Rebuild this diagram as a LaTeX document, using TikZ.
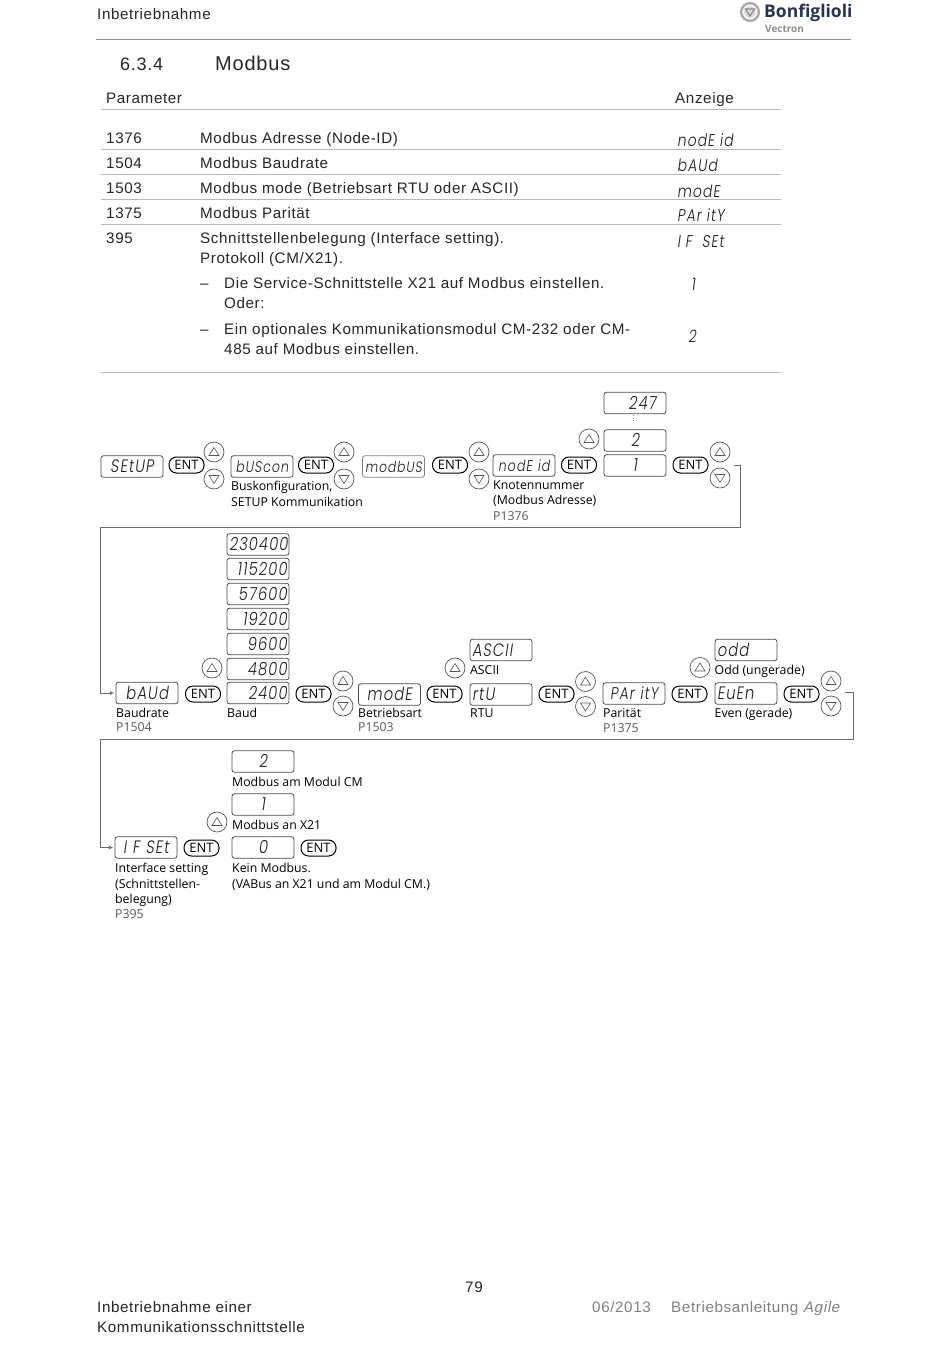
\documentclass[tikz,border=0pt]{standalone}
\usepackage{fontspec}
\setmainfont[LetterSpace=4]{Liberation Sans}
\newfontfamily\dia{Open Sans}
\newfontfamily\seg[FakeSlant=0.14,FakeStretch=0.82,LetterSpace=6]{Poppins Light}
\usetikzlibrary{arrows.meta}
\definecolor{rulec}{gray}{0.72}
\definecolor{frame}{gray}{0.42}
\definecolor{inkc}{gray}{0.12}
\definecolor{navy}{RGB}{38,52,82}
\tikzset{
 x=1pt,y=-1pt,
 disp/.style={draw=inkc!80!white,line width=.8pt,rounded corners=2.5pt,minimum width=62pt,minimum height=21.5pt,inner sep=0pt,text width=58pt,align=center,text height=12pt,text depth=0pt,font=\seg\fontsize{18}{19}\selectfont,text=inkc},
 dl/.style={disp,align=left},
 dr/.style={disp,align=right},
 dsm/.style={font=\seg\fontsize{15.5}{19}\selectfont},
 ent/.style={draw=black,line width=1pt,rounded corners=7.5pt,minimum width=35pt,minimum height=16pt,inner sep=0pt,font=\dia\fontsize{13}{13}\selectfont},
 btn/.style={circle,draw=inkc!75!white,line width=.7pt,minimum size=20pt,inner sep=0pt},
 lab/.style={anchor=base west,yshift=-4.5pt,inner sep=0pt,font=\dia\fontsize{12.3}{14}\selectfont,text=black},
 parm/.style={lab,text=black!65},
 body/.style={anchor=base west,yshift=-5pt,inner sep=0pt,font=\fontsize{15.2}{18}\selectfont,text=black!85},
 hrule/.style={draw=rulec,line width=.8pt},
 flow/.style={draw=frame,line width=.9pt},
 ann/.style={anchor=base west,yshift=-6pt,inner sep=0pt,font=\seg\fontsize{17}{16}\selectfont,text=inkc},
}
\newcommand{\upb}[3]{\node[btn] (#1) at (#2,#3) {};\draw[inkc!75!white,line width=.6pt] (#1.center) ++(-5,3.5) -- ++(10,0) -- ++(-5,-8) -- cycle;}
\newcommand{\dnb}[3]{\node[btn] (#1) at (#2,#3) {};\draw[inkc!75!white,line width=.6pt] (#1.center) ++(-5,-3.5) -- ++(10,0) -- ++(-5,8) -- cycle;}
\begin{document}
\begin{tikzpicture}
\useasboundingbox (0,0) rectangle (950,1359);
% header
\node[body] (hd) at (97,15) {Inbetriebnahme};
\draw[draw=black!45,line width=1pt] (96,40) -- (851,40);
\node[anchor=base west,inner sep=0pt,font=\dia\bfseries\fontsize{17.5}{18}\selectfont,text=navy] (lg) at (764,18) {Bonfiglioli};
\node[anchor=base west,inner sep=0pt,font=\dia\bfseries\fontsize{10}{10}\selectfont,text=black!45] (lg2) at (765,33) {Vectron};
\node[circle,draw=black!35,line width=2pt,minimum size=18pt,inner sep=0pt,fill=black!15] (lgc) at (750,12) {};
\draw[white,line width=1pt] (lgc.center) circle (6.5pt);
\draw[black!45,line width=1.2pt] (745.5,9) -- (754.5,9) -- (750,16) -- cycle;
\node[anchor=base west,inner sep=0pt,font=\fontsize{18}{18}\selectfont,text=black!85] (sec) at (120,71) {6.3.4};
\node[anchor=base west,inner sep=0pt,font=\fontsize{20}{20}\selectfont,text=black!85] (sect) at (215,71) {Modbus};
% table
\node[body] (tp) at (106,99) {Parameter};
\node[body] (ta) at (675,99) {Anzeige};
\draw[hrule] (101,109.5) -- (781,109.5);
\foreach \yy in {149.5,174.5,199.5,224.5} \draw[hrule] (101,\yy) -- (781,\yy);
\draw[hrule] (101,372.5) -- (781,372.5);
\node[body] at (106,138.5) {1376};\node[body] at (200,138.5) {Modbus Adresse (Node-ID)};\node[ann] at (677,141) {nodE id};
\node[body] at (106,163.5) {1504};\node[body] at (200,163.5) {Modbus Baudrate};\node[ann] at (677,166) {bAUd};
\node[body] at (106,188.5) {1503};\node[body] at (200,188.5) {Modbus mode (Betriebsart RTU oder ASCII)};\node[ann] at (677,191) {modE};
\node[body] at (106,213.5) {1375};\node[body] at (200,213.5) {Modbus Parität};\node[ann] at (677,216) {PAr itY};
\node[body] at (106,238.5) {395};\node[body] at (200,238.5) {Schnittstellenbelegung (Interface setting).};\node[ann] at (677,241) {I F\hspace{5pt} SEt};
\node[body] at (200,258.5) {Protokoll (CM/X21).};
\node[body] at (200,283.5) {–};\node[body] at (224,283.5) {Die Service-Schnittstelle X21 auf Modbus einstellen.};\node[ann] at (691,284) {1};
\node[body] at (224,303.5) {Oder:};
\node[body] at (200,329) {–};\node[body] at (224,329) {Ein optionales Kommunikationsmodul CM-232 oder CM-};\node[ann] at (688,336) {2};
\node[body] at (224,349) {485 auf Modbus einstellen.};
% row 1
\node[disp] (setup) at (132,466.5) {SEtUP};
\node[ent] (e1) at (186.5,465) {ENT};
\upb{u1}{214}{452}\dnb{d1}{214}{479}
\node[disp,dsm] (buscon) at (262,466.5) {bUScon};
\node[ent] (e2) at (316,465) {ENT};
\upb{u2}{344}{452}\dnb{d2}{344}{479}
\node[disp,font=\seg\fontsize{15}{19}\selectfont,draw=black!50] (modbus) at (393.5,466.5) {modbUS};
\node[ent] (e3) at (450,465) {ENT};
\upb{u3}{479}{452}\dnb{d3}{479}{479}
\node[disp,dsm] (nodeid) at (524,465.5) {nodE id};
\node[ent] (e4) at (579,465) {ENT};
\node[disp] (v1) at (635,465.5) {1};
\node[disp] (v2) at (635,440.5) {2};
\node[dr] (v247) at (635,403) {247\hspace*{8pt}};
\coordinate (dot1) at (633,415);
\coordinate (dot2) at (633,422);
\draw[black!45,dotted,line width=.7pt] (dot1) -- (dot2);
\upb{u4}{589}{439}
\node[ent] (e5) at (690.5,465) {ENT};
\upb{u5}{720}{452}\dnb{d5}{720}{478}
\node[lab] at (231,486) {Buskonfiguration,};
\node[lab] at (231,502) {SETUP Kommunikation};
\node[lab] at (493,485) {Knotennummer};
\node[lab] at (493,500) {(Modbus Adresse)};
\node[parm] at (493,516) {P1376};
% row 2
\node[disp] (baud) at (147,693) {bAUd};
\node[ent] (e6) at (203,694) {ENT};
\upb{u6}{212}{668}
\foreach \nn/\yy/\tt in {b2400/693/2400,b4800/669/4800,b9600/644/9600,b19200/619/19200,b57600/594/57600,b115200/569/115200,b230400/544.5/230400}
  \node[dr] (\nn) at (258,\yy) {\tt};
\node[ent] (e7) at (313.5,694) {ENT};
\upb{u7}{343}{681}\dnb{d7}{343}{706}
\node[disp] (mode) at (389.5,694.5) {modE};
\node[ent] (e8) at (444.5,694) {ENT};
\upb{u8}{455}{668}
\node[dl] (ascii) at (501,650) {ASCII};
\node[dl] (rtu) at (501,694.5) {rtU};
\node[ent] (e9) at (556.5,694) {ENT};
\upb{u9}{585.5}{681.5}\dnb{d9}{585.5}{706.5}
\node[disp,font=\seg\fontsize{17}{19}\selectfont] (parity) at (634,693.5) {PAr itY};
\node[ent] (e10) at (689.5,694) {ENT};
\upb{u10}{700}{667.5}
\node[dl] (odd) at (746,650) {odd};
\node[dl] (even) at (746,693.5) {EuEn};
\node[ent] (e11) at (801.5,694) {ENT};
\upb{u11}{831}{681}\dnb{d11}{831}{706}
\node[lab] at (116,713) {Baudrate};
\node[parm] at (116,727) {P1504};
\node[lab] at (227,713) {Baud};
\node[lab] at (358,713) {Betriebsart};
\node[parm] at (358,727) {P1503};
\node[lab] at (470,670) {ASCII};
\node[lab] at (470,713) {RTU};
\node[lab] at (603,713) {Parität};
\node[parm] at (603,728) {P1375};
\node[lab] at (714.5,670) {Odd (ungerade)};
\node[lab] at (714.5,713) {Even (gerade)};
% row 3
\node[disp] (ifset) at (146,847.5) {I F SEt};
\node[ent] (e12) at (201.5,848) {ENT};
\upb{u12}{217}{822}
\node[disp] (m0) at (263,847.5) {0};
\node[disp] (m1) at (263,804.5) {1};
\node[disp] (m2) at (263,761.5) {2};
\node[ent] (e13) at (318.5,848) {ENT};
\node[lab] at (232,782) {Modbus am Modul CM};
\node[lab] at (232,825) {Modbus an X21};
\node[lab] at (232,868) {Kein Modbus.};
\node[lab] at (232,884) {(VABus an X21 und am Modul CM.)};
\node[lab] at (115,868) {Interface setting};
\node[lab] at (115,884) {(Schnittstellen-};
\node[lab] at (115,899) {belegung)};
\node[parm] at (115,914) {P395};
% connectors
\coordinate (s1) at (734,465);
\coordinate (s2) at (845,692);
\draw[flow,shorten >=1.5pt,-{Latex[length=4pt,width=4pt]}] (s1) -| (740,527) -| (100,693) -- (baud.west);
\draw[flow,shorten >=1.5pt,-{Latex[length=4pt,width=4pt]}] (s2) -| (853,739) -| (100,847.5) -- (ifset.west);
% footer
\node[anchor=base,inner sep=0pt,font=\fontsize{15.2}{18}\selectfont,text=black!85] (pg) at (474,1292) {79};
\node[body] at (97,1307) {Inbetriebnahme einer};
\node[body] at (97,1327) {Kommunikationsschnittstelle};
\node[body,text=black!50] at (592,1307) {06/2013};
\node[body,text=black!50] at (671,1307) {Betriebsanleitung \fontspec[LetterSpace=4,FakeSlant=0.2]{Liberation Sans}Agile};
\end{tikzpicture}
\end{document}
